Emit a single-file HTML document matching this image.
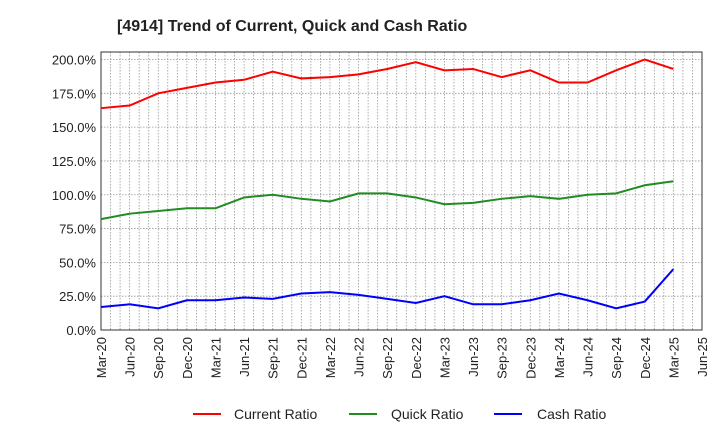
<!DOCTYPE html>
<html><head><meta charset="utf-8"><style>
body{margin:0;background:#fff;font-family:"Liberation Sans",sans-serif;}
svg text{font-family:"Liberation Sans",sans-serif;}
</style></head><body>
<svg id="chart" width="720" height="440">
<text x="117" y="31" font-size="16" font-weight="bold" fill="#222">[4914]  Trend of Current, Quick and Cash Ratio</text>
<g id="grid"></g><g id="axes"></g><g id="series"></g>
<g>
<line x1="193" y1="414" x2="221" y2="414" stroke="#f00" stroke-width="2"/>
<text x="234" y="419" font-size="14" fill="#222">Current Ratio</text>
<line x1="349" y1="414" x2="377" y2="414" stroke="#228b22" stroke-width="2"/>
<text x="391" y="419" font-size="14" fill="#222">Quick Ratio</text>
<line x1="494" y1="414" x2="522" y2="414" stroke="#00f" stroke-width="2"/>
<text x="537" y="419" font-size="14" fill="#222">Cash Ratio</text>
</g>
</svg>
<script>
const categories=["Mar-20","Jun-20","Sep-20","Dec-20","Mar-21","Jun-21","Sep-21","Dec-21","Mar-22","Jun-22","Sep-22","Dec-22","Mar-23","Jun-23","Sep-23","Dec-23","Mar-24","Jun-24","Sep-24","Dec-24","Mar-25"];
const xTickLabels=categories.concat(["Jun-25"]);
const currentRatio=[164,166,175,179,183,185,191,186,187,189,193,198,192,193,187,192,183,183,192,200,193];
const quickRatio=[82,86,88,90,90,98,100,97,95,101,101,98,93,94,97,99,97,100,101,107,110];
const cashRatio=[17,19,16,22,22,24,23,27,28,26,23,20,25,19,19,22,27,22,16,21,45];
const yTicks=[0,25,50,75,100,125,150,175,200];
const L=101,R=702,T=52,B=330;
const x=i=>L+i*(R-L)/21;
const y=v=>B-v*(B-59.5)/200;
const NS="http://www.w3.org/2000/svg";
function mk(tag,parent,attrs){const e=document.createElementNS(NS,tag);for(const k in attrs)e.setAttribute(k,attrs[k]);document.getElementById(parent).appendChild(e);return e;}
for(let m=1;m<63;m++){const xx=L+m*(R-L)/63;
const g=mk("line","grid",{x1:xx,x2:xx,y1:T,y2:B,stroke:"#999","stroke-width":0.8,"stroke-dasharray":"1.5,1.5"});

}
yTicks.forEach(v=>{const g=mk("line","grid",{x1:L,x2:R,y1:y(v),y2:y(v),stroke:"#999","stroke-width":0.8,"stroke-dasharray":"1.5,1.5"});


const t=mk("text","axes",{x:L-5,y:y(v)+5,"font-size":13,fill:"#222","text-anchor":"end"});t.textContent=v.toFixed(1)+"%";

});
xTickLabels.forEach((c,i)=>{const t=mk("text","axes",{x:0,y:0,"font-size":13,fill:"#222","text-anchor":"end",transform:`translate(${x(i)+5},${B+7}) rotate(-90)`});t.textContent=c;

});
const fr=mk("rect","axes",{x:L,y:T,width:R-L,height:B-T,fill:"none",stroke:"#333","stroke-width":1});


[[currentRatio,"#f00","current-ratio-line"],[quickRatio,"#228b22","quick-ratio-line"],[cashRatio,"#00f","cash-ratio-line"]].forEach(([d,c,n])=>{
const p=mk("polyline","series",{points:d.map((v,i)=>x(i)+","+y(v)).join(" "),fill:"none",stroke:c,"stroke-width":2});

});
</script>
</body></html>
